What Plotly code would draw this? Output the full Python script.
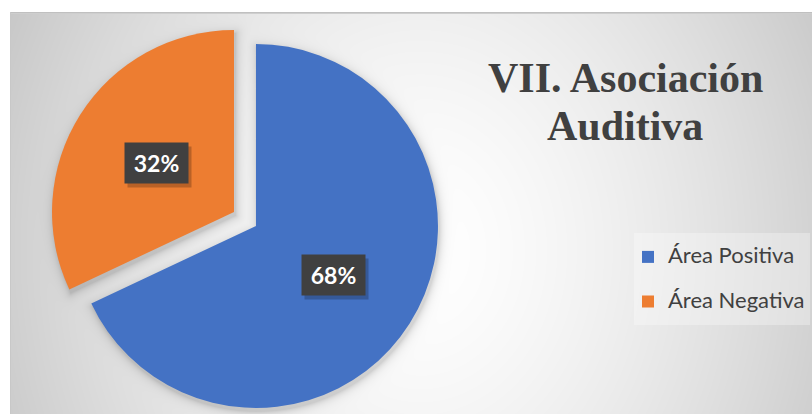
import base64
import math
import struct
import zlib

import numpy as np
import plotly.graph_objects as go

# ---------------- data ----------------
categories = ["Área Positiva", "Área Negativa"]
values = [68, 32]
colors = ["#4472C4", "#ED7D31"]
title_lines = ["VII. Asociación", "Auditiva"]

# ---------------- geometry / style ----------------
W, H = 812, 414
R = 182            # pie radius (px)
PULL_PX = 13       # each slice pulled by this many px
CX, CY = 245, 219  # pie centre (px, from top-left)
pull = PULL_PX / R
half = R * (1 + pull)


# ---------------- background gradient image ----------------
def png_data_uri(arr):
    h, w, _ = arr.shape
    raw = b"".join(b"\x00" + arr[y].tobytes() for y in range(h))

    def chunk(tag, data):
        c = struct.pack(">I", len(data)) + tag + data
        return c + struct.pack(">I", zlib.crc32(tag + data) & 0xFFFFFFFF)

    png = (b"\x89PNG\r\n\x1a\n"
           + chunk(b"IHDR", struct.pack(">IIBBBBB", w, h, 8, 2, 0, 0, 0))
           + chunk(b"IDAT", zlib.compress(raw, 9))
           + chunk(b"IEND", b""))
    return "data:image/png;base64," + base64.b64encode(png).decode()


yy, xx = np.mgrid[0:H, 0:W].astype(float)
dist = np.sqrt(((xx - 420) / 400) ** 2 + ((yy - 250) / 480) ** 2)
g = np.clip(255 - 45 * dist ** 1.5, 190, 255)

# soft drop shadow around each (pulled) slice
total = float(sum(values))
shadow_d = np.full((H, W), 1e9)
cum = 0.0
sx, sy = xx - 1.0, yy - 3.0
for v in values:
    a0 = 2 * math.pi * cum / total
    a1 = 2 * math.pi * (cum + v) / total
    mid = (a0 + a1) / 2
    cum += v
    ox = CX + PULL_PX * math.sin(mid)
    oy = CY - PULL_PX * math.cos(mid)
    px, py = sx - ox, sy - oy
    rho = np.hypot(px, py)
    theta = np.mod(np.arctan2(px, -py), 2 * math.pi)
    inside = (theta >= a0) & (theta <= a1)
    d = np.where(inside, np.maximum(rho - R, 0), np.inf)
    for a in (a0, a1):
        ux, uy = math.sin(a), -math.cos(a)
        t = np.clip(px * ux + py * uy, 0, R)
        d = np.minimum(d, np.hypot(px - t * ux, py - t * uy))
    shadow_d = np.minimum(shadow_d, d)
g = g * (1 - 0.16 * np.exp(-shadow_d / 4.0))

# lighter panel behind the legend
box = (xx >= 634) & (xx <= 809) & (yy >= 233) & (yy <= 324)
g = np.where(box, g + (255 - g) * 0.3, g)
bg = np.stack([g, g, g], -1).astype(np.uint8)
bg[:12, :] = 255
bg[:, :10] = 255
bg[12, 10:] = 192
bg[13, 10:] = 206
bg[12:, 10] = 200

fig = go.Figure()

legend_labels = ['<span style="font-size:22px">%s</span><br> ' % c for c in categories]

fig.add_trace(go.Pie(
    labels=legend_labels,
    values=values,
    marker=dict(colors=colors, line=dict(width=0)),
    sort=False,
    direction="clockwise",
    rotation=0,
    pull=[pull] * len(values),
    textinfo="none",
    hovertext=categories,
    hoverinfo="text+percent",
    domain=dict(x=[(CX - half) / W, (CX + half) / W], y=[1 - (CY + half) / H, 1 - (CY - half) / H]),
))

# ---------------- data labels (computed from values) ----------------
cum = 0.0
annotations = []
for v in values:
    mid = 2 * math.pi * (cum + v / 2) / total
    cum += v
    dx, dy = math.sin(mid), math.cos(mid)
    rr = PULL_PX + 0.505 * R
    px, py = CX + rr * dx, CY - rr * dy
    txt = "%d%%" % round(100 * v / total)
    common = dict(x=px / W, y=1 - py / H, xref="paper", yref="paper", showarrow=False,
                  width=63, height=40, borderpad=0, xanchor="center", yanchor="middle")
    annotations.append(dict(text=" ", bgcolor="rgba(0,0,0,0.22)", xshift=3, yshift=-4, **common))
    annotations.append(dict(text=txt, bgcolor="#404040",
                            font=dict(family="Lato", size=23, color="white", weight="bold"), **common))

# ---------------- title ----------------
for line, yc in zip(title_lines, [78, 126]):
    annotations.append(dict(text="<b>%s</b>" % line, x=625 / W, y=1 - yc / H, xref="paper", yref="paper",
                            showarrow=False, xanchor="center", yanchor="middle",
                            font=dict(family="Liberation Serif", size=42, color="#404040")))

fig.update_layout(
    width=W, height=H,
    margin=dict(l=0, r=0, t=0, b=0),
    paper_bgcolor="white",
    images=[dict(source=png_data_uri(bg), xref="paper", yref="paper", x=0, y=1, sizex=1, sizey=1,
                 xanchor="left", yanchor="top", sizing="stretch", layer="below")],
    annotations=annotations,
    showlegend=True,
    legend=dict(x=628 / W, y=1 - 240 / H, xanchor="left", yanchor="top",
                bgcolor="rgba(0,0,0,0)", borderwidth=0, valign="top",
                font=dict(family="Lato", size=16, color="#404040")),
)

fig.write_html("out.html", config={"displayModeBar": False},
               post_script="document.body.style.margin='0';")
